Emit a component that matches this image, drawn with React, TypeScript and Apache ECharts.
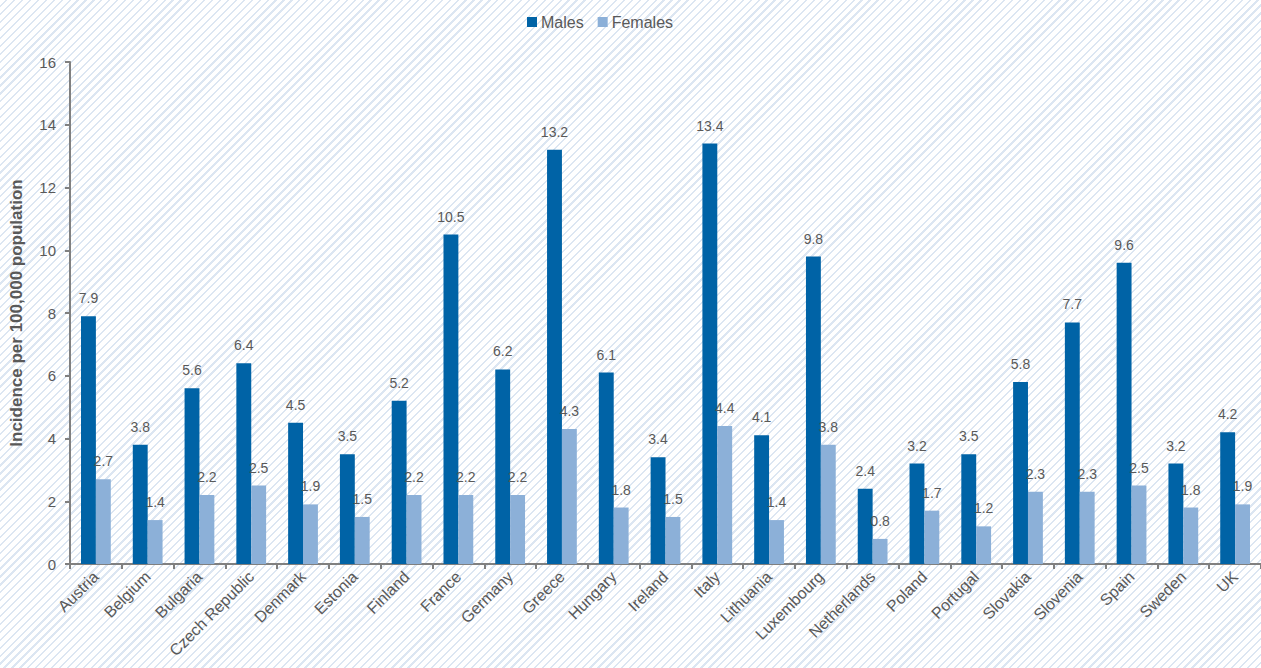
import React, { useEffect, useRef } from "react";
import * as echarts from "echarts";

const countries = ["Austria","Belgium","Bulgaria","Czech Republic","Denmark","Estonia","Finland","France","Germany","Greece","Hungary","Ireland","Italy","Lithuania","Luxembourg","Netherlands","Poland","Portugal","Slovakia","Slovenia","Spain","Sweden","UK"];
const males = [7.9,3.8,5.6,6.4,4.5,3.5,5.2,10.5,6.2,13.2,6.1,3.4,13.4,4.1,9.8,2.4,3.2,3.5,5.8,7.7,9.6,3.2,4.2];
const females = [2.7,1.4,2.2,2.5,1.9,1.5,2.2,2.2,2.2,4.3,1.8,1.5,4.4,1.4,3.8,0.8,1.7,1.2,2.3,2.3,2.5,1.8,1.9];
const yTicks = { min: 0, max: 16, interval: 2 };

export default function App() {
  const ref = useRef<HTMLDivElement>(null);
  useEffect(() => {
    const chart = echarts.init(ref.current!, null, { renderer: "svg" });
    const font = "Liberation Sans, Arial, sans-serif";
    const label = {
      show: true,
      position: "top" as const,
      distance: 11,
      color: "#595959",
      fontSize: 14,
      fontFamily: font,
      formatter: (p: any) => p.value.toFixed(1),
    };
    chart.setOption({
      animation: false,
      textStyle: { fontFamily: font },
      legend: {
        top: 9,
        left: 522,
        icon: "rect",
        itemWidth: 10,
        itemHeight: 10,
        itemGap: 14,
        textStyle: { color: "#595959", fontSize: 16, fontFamily: font, padding: [0, 0, 0, -1] },
        data: ["Males", "Females"],
      },
      grid: { left: 68, right: -7, top: 62, bottom: 104, containLabel: false },
      xAxis: {
        type: "category",
        data: countries,
        axisLine: { lineStyle: { color: "#808080", width: 2 } },
        axisTick: { show: true, alignWithLabel: false, length: 5, lineStyle: { color: "#808080", width: 2 } },
        axisLabel: { rotate: 45, color: "#595959", fontSize: 16, fontFamily: font, interval: 0, margin: 10 },
      },
      yAxis: {
        type: "value",
        min: yTicks.min,
        max: yTicks.max,
        interval: yTicks.interval,
        name: "Incidence per 100,000 population",
        nameLocation: "middle",
        nameGap: 45,
        nameTextStyle: { color: "#595959", fontSize: 17, fontWeight: "bold", fontFamily: font },
        axisLine: { show: true, lineStyle: { color: "#808080", width: 2 } },
        axisTick: { show: true, length: 5, lineStyle: { color: "#808080", width: 2 } },
        axisLabel: { color: "#595959", fontSize: 15, fontFamily: font, margin: 14 },
        splitLine: { show: false },
      },
      series: [
        {
          name: "Males",
          type: "bar",
          data: males,
          barGap: "0%",
          barCategoryGap: "42.5%",
          itemStyle: { color: "#0063a6" },
          label,
        },
        {
          name: "Females",
          type: "bar",
          data: females,
          itemStyle: { color: "#8cb0d8" },
          label,
        },
      ],
    });
    return () => chart.dispose();
  }, []);
  return (
    <div
      style={{
        position: "fixed",
        left: 0,
        top: 0,
        width: 1261,
        height: 668,
        overflow: "hidden",
        backgroundColor: "#ffffff",
        backgroundImage:
          "repeating-linear-gradient(135deg, #ffffff 0px, #ffffff 4px, #dce6f2 4px, #dce6f2 5.6px)",
      }}
    >
      <div ref={ref} style={{ width: 1261, height: 668 }} />
    </div>
  );
}
